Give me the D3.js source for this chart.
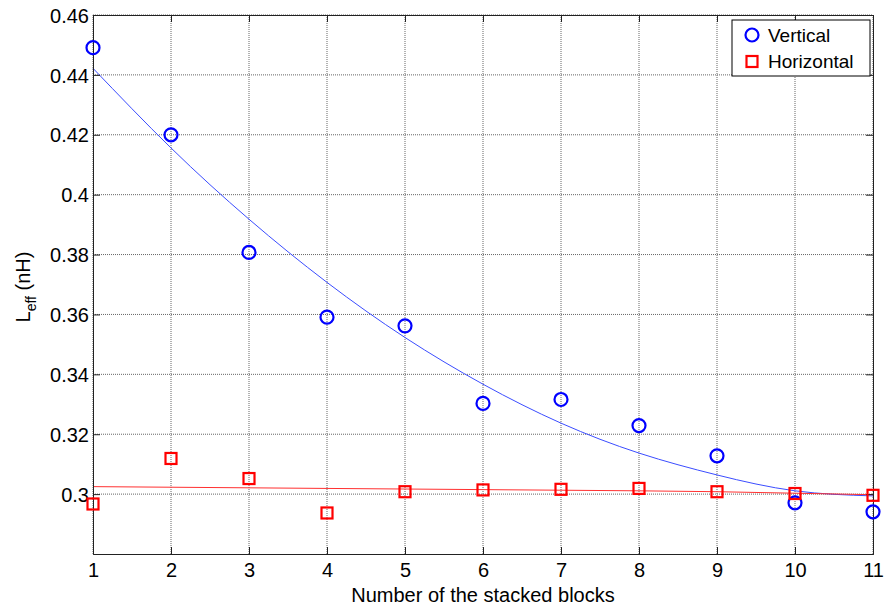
<!DOCTYPE html>
<html>
<head>
<meta charset="utf-8">
<script src="https://cdn.jsdelivr.net/npm/d3@7"></script>
<style>
  body { margin: 0; background: #fff; }
  text { font-family: "Liberation Sans", Arial, sans-serif; fill: #000; }
</style>
</head>
<body>
<div id="chart"></div>
<script>
// 데이터
var blocks = [1, 2, 3, 4, 5, 6, 7, 8, 9, 10, 11];
var vertical = [0.4491, 0.4200, 0.3807, 0.3591, 0.3562, 0.3303, 0.3316, 0.3229, 0.3128, 0.2971, 0.2941];
var horizontal = [0.2967, 0.3119, 0.3052, 0.2937, 0.3008, 0.3014, 0.3016, 0.3019, 0.3008, 0.3002, 0.2996];
var verticalFit = [0.4422, 0.4156, 0.3918, 0.3707, 0.3523, 0.3367, 0.3237, 0.3137, 0.3064, 0.3011, 0.2994];
var horizontalFit = [0.3025, 0.3023, 0.3021, 0.3019, 0.3017, 0.3015, 0.3013, 0.3011, 0.3008, 0.3003, 0.2998];
var xTicks = [1, 2, 3, 4, 5, 6, 7, 8, 9, 10, 11];
var yTicks = [0.3, 0.32, 0.34, 0.36, 0.38, 0.4, 0.42, 0.44, 0.46];
var seriesNames = ["Vertical", "Horizontal"];

// SVG 설정
var margin = { top: 15, right: 14, bottom: 56, left: 93 };
var width = 887 - margin.left - margin.right;
var height = 610 - margin.top - margin.bottom;
var svg = d3.select("#chart").append("svg")
    .attr("width", 887)
    .attr("height", 610);
var g = svg.append("g")
    .attr("transform", "translate(" + margin.left + "," + margin.top + ")");

// scale
var x = d3.scaleLinear().domain([1, 11]).range([0, width]);
var y = d3.scaleLinear().domain([0.28, 0.46]).range([height, 0]);

// 그리드
g.append("g").selectAll("line").data(xTicks).enter().append("line")
    .attr("x1", d => x(d)).attr("x2", d => x(d))
    .attr("y1", 0).attr("y2", height)
    .attr("stroke", "#666").attr("stroke-width", 1)
    .attr("stroke-dasharray", "1,1");
g.append("g").selectAll("line").data(yTicks).enter().append("line")
    .attr("x1", 0).attr("x2", width)
    .attr("y1", d => y(d)).attr("y2", d => y(d))
    .attr("stroke", "#666").attr("stroke-width", 1)
    .attr("stroke-dasharray", "1,1");

// 피팅 곡선
var line = d3.line()
    .x((d, i) => x(blocks[i]))
    .y(d => y(d))
    .curve(d3.curveNatural);
g.append("path").datum(verticalFit)
    .attr("d", line).attr("fill", "none")
    .attr("stroke", "#3b4dff").attr("stroke-width", 1);
g.append("path").datum(horizontalFit)
    .attr("d", line).attr("fill", "none")
    .attr("stroke", "#ff3030").attr("stroke-width", 1);

// 축
var tickLen = 7;
var xAxis = d3.axisBottom(x).tickValues(xTicks).tickSize(-tickLen).tickPadding(9).tickFormat(d3.format("d"));
var yAxis = d3.axisLeft(y).tickValues(yTicks).tickSize(-tickLen).tickPadding(4).tickFormat(d => d3.format("")(+d.toFixed(2)));

var gx = g.append("g").attr("transform", "translate(0," + height + ")").call(xAxis);
var gy = g.append("g").call(yAxis);
var gxt = g.append("g").call(d3.axisTop(x).tickValues(xTicks).tickSize(-tickLen).tickFormat(""));
var gyr = g.append("g").attr("transform", "translate(" + width + ",0)")
    .call(d3.axisRight(y).tickValues(yTicks).tickSize(-tickLen).tickFormat(""));

[gx, gy, gxt, gyr].forEach(function (a) {
  a.select(".domain").attr("stroke", "#222").attr("stroke-width", 1);
  a.selectAll(".tick line").attr("stroke", "#222");
  a.selectAll("text").style("font-size", "20px").attr("fill", "#000");
});
gy.selectAll(".tick text").attr("dy", "0.36em");

// 점 그리기
g.append("g").selectAll("circle").data(vertical).enter().append("circle")
    .attr("cx", (d, i) => x(blocks[i]))
    .attr("cy", d => y(d))
    .attr("r", 6.5)
    .attr("fill", "none").attr("stroke", "#0000ff").attr("stroke-width", 2.2);
g.append("g").selectAll("rect").data(horizontal).enter().append("rect")
    .attr("x", (d, i) => x(blocks[i]) - 5.5)
    .attr("y", d => y(d) - 5.5)
    .attr("width", 11).attr("height", 11)
    .attr("fill", "none").attr("stroke", "#ff0000").attr("stroke-width", 2.2);

// 축 레이블
svg.append("text")
    .attr("x", margin.left + width / 2)
    .attr("y", 602)
    .attr("text-anchor", "middle")
    .style("font-size", "20px")
    .text("Number of the stacked blocks");

var yl = svg.append("text")
    .attr("transform", "translate(30,287) rotate(-90)")
    .attr("text-anchor", "middle")
    .style("font-size", "20px");
yl.append("tspan").text("L");
yl.append("tspan").attr("dy", 6).style("font-size", "14px").text("eff");
yl.append("tspan").attr("dy", -6).text(" (nH)");

// 범례
var lg = svg.append("g").attr("transform", "translate(732,20)");
lg.append("rect").attr("width", 138).attr("height", 56)
    .attr("fill", "#fff").attr("stroke", "#000").attr("stroke-width", 1);
lg.append("circle").attr("cx", 20).attr("cy", 15).attr("r", 6.5)
    .attr("fill", "none").attr("stroke", "#0000ff").attr("stroke-width", 2.2);
lg.append("rect").attr("x", 14.5).attr("y", 36).attr("width", 11).attr("height", 11)
    .attr("fill", "none").attr("stroke", "#ff0000").attr("stroke-width", 2.2);
lg.selectAll("text.lbl").data(seriesNames).enter().append("text")
    .attr("class", "lbl")
    .attr("x", 36)
    .attr("y", (d, i) => 22 + i * 26)
    .style("font-size", "19px")
    .text(d => d);
</script>
</body>
</html>
